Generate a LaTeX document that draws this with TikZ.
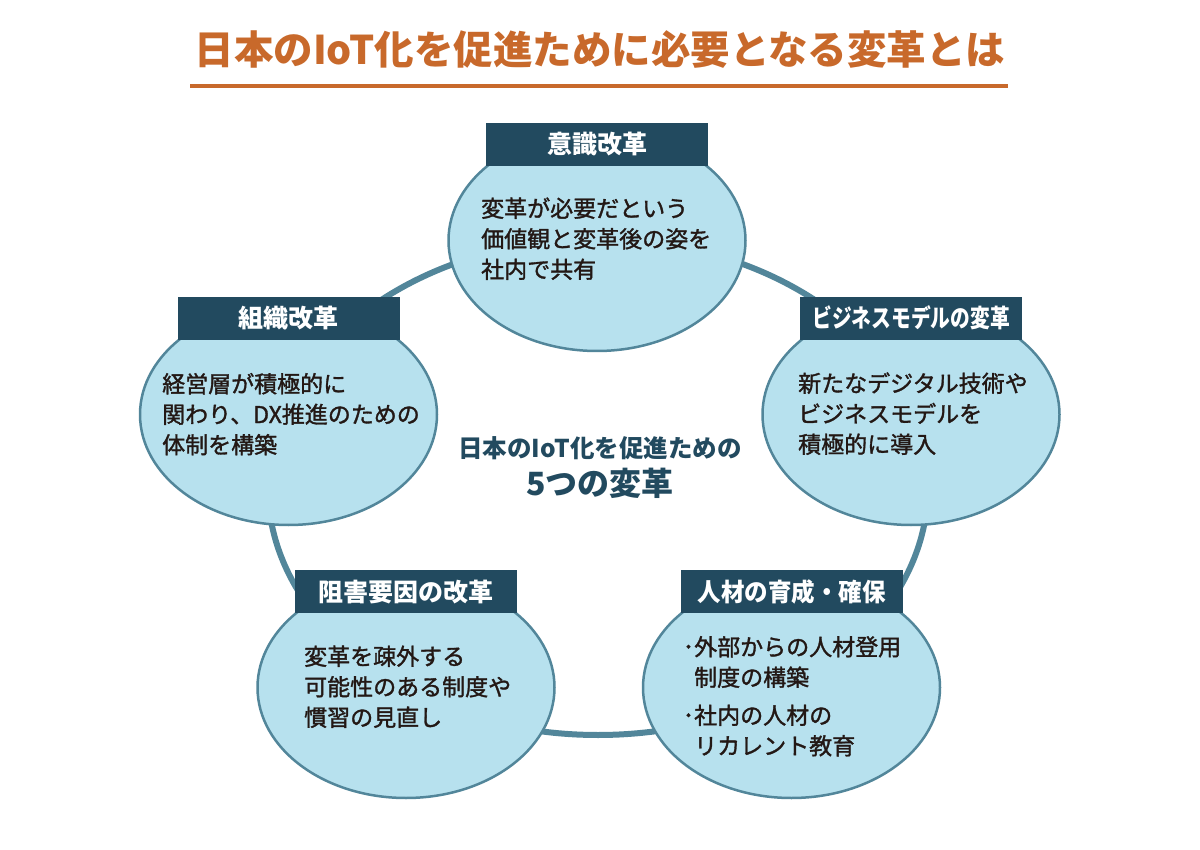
\documentclass[tikz,border=0pt]{standalone}
\usepackage{fontspec}
\setmainfont{Noto Sans CJK JP}
\newfontfamily\bodyjp{Noto Sans CJK JP}[FakeBold=1.4]
\usepackage{graphicx}
\usetikzlibrary{shapes.geometric}
\definecolor{titleorange}{HTML}{C8692B}
\definecolor{headdark}{HTML}{224A5F}
\definecolor{ringblue}{HTML}{52869A}
\definecolor{fillblue}{HTML}{B7E1EE}
\definecolor{bodytext}{HTML}{231815}
\begin{document}
\begin{tikzpicture}[x=1pt,y=-1pt,
  bubble/.style={ellipse, draw=ringblue, line width=2.5pt, fill=fillblue,
    minimum width=297pt, minimum height=221pt, inner sep=0pt},
  header/.style={fill=headdark, minimum width=222pt, minimum height=43pt,
    inner sep=0pt, text=white, text height=22pt, text depth=3pt,
    font=\fontsize{25}{30}\selectfont\bfseries},
  body/.style={anchor=base west, inner sep=0pt, align=left, text width=280pt,
    text=bodytext, font=\bodyjp\fontsize{23}{30.5}\selectfont},
  ring/.style={draw=ringblue, line width=6pt}
]
\useasboundingbox (0,0) rectangle (1200,850);

% title
\node[text=titleorange, font=\fontsize{39.5}{46}\selectfont\bfseries,
  text height=34.8pt, text depth=4.7pt, inner sep=0pt] (title) at (600,49)
  {日本のIoT化を促進ために必要となる変革とは};
\draw[titleorange, line width=4pt] (190,86) -- (1008,86);

% ring
\draw[ring] (598,487) ellipse [x radius=330, y radius=248];

% bubbles
\node[bubble] (bT)  at (597,240.5) {};
\node[bubble] (bL)  at (288.5,414.5) {};
\node[bubble] (bR)  at (911,414.5) {};
\node[bubble] (bBL) at (406,687.5) {};
\node[bubble] (bBR) at (791.5,687.5) {};

% headers
\node[header] (hT)  at (597,144.5) {意識改革};
\node[header] (hL)  at (288.5,318.5) {組織改革};
\node[header] (hR)  at (911,318.5) {\scalebox{0.79}[1]{ビジネスモデルの変革}};
\node[header] (hBL) at (406,591.5) {阻害要因の改革};
\node[header] (hBR) at (791.5,591.5) {\scalebox{0.94}[1]{人材の育成・確保}};

% body texts
\node[body] (tT)  at (481,217) {変革が必要だという\\価値観と変革後の姿を\\社内で共有};
\node[body] (tL)  at (162,392.5) {経営層が積極的に\\関わり、DX推進のための\\体制を構築};
\node[body] (tR)  at (798,392) {新たなデジタル技術や\\ビジネスモデルを\\積極的に導入};
\node[body] (tBL) at (304,665) {変革を疎外する\\可能性のある制度や\\慣習の見直し};
\node[body] (tBR1) at (694,655.5) {\llap{･}外部からの人材登用\\制度の構築};
\node[body] (tBR2) at (694,724) {\llap{･}社内の人材の\\リカレント教育};

% centre caption
\node[text=headdark, font=\fontsize{24.5}{29}\selectfont\bfseries,
  text height=21.6pt, text depth=2.9pt, inner sep=0pt] (c1) at (600,448)
  {日本のIoT化を促進ための};
\node[text=headdark, font=\fontsize{32}{37}\selectfont\bfseries,
  text height=28.2pt, text depth=3.8pt, inner sep=0pt] (c2) at (600,483)
  {5つの変革};
\end{tikzpicture}
\end{document}
